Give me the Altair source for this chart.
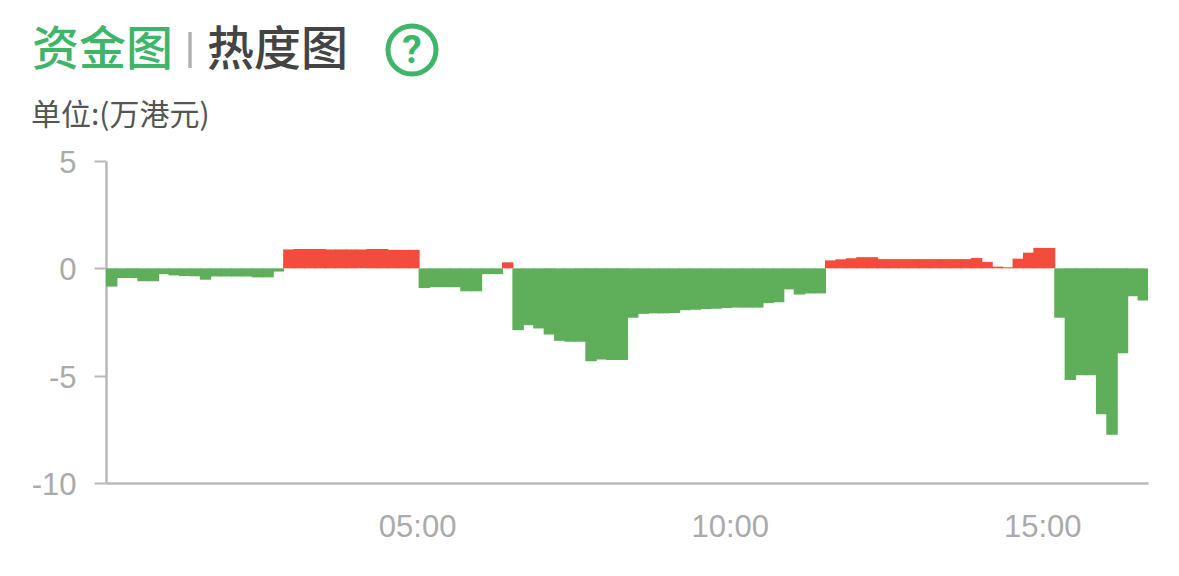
import altair as alt
import pandas as pd

values = [
    -0.85, -0.45, -0.45, -0.6, -0.6, -0.27, -0.33, -0.36, -0.37, -0.53,
    -0.38, -0.38, -0.38, -0.38, -0.42, -0.42, -0.15, 0.88, 0.9, 0.9,
    0.9, 0.88, 0.88, 0.88, 0.88, 0.9, 0.9, 0.86, 0.86, 0.86,
    -0.92, -0.88, -0.88, -0.88, -1.07, -1.07, -0.27, -0.27, 0.28, -2.88,
    -2.65, -2.8, -3.08, -3.38, -3.42, -3.42, -4.33, -4.25, -4.27, -4.27,
    -2.3, -2.12, -2.1, -2.1, -2.08, -1.95, -1.93, -1.9, -1.88, -1.85,
    -1.83, -1.83, -1.83, -1.62, -1.58, -0.98, -1.22, -1.17, -1.17, 0.37,
    0.42, 0.47, 0.52, 0.52, 0.43, 0.43, 0.43, 0.43, 0.43, 0.43,
    0.43, 0.43, 0.43, 0.48, 0.3, 0.08, 0.05, 0.45, 0.73, 0.95,
    0.95, -2.3, -5.2, -4.98, -4.98, -6.8, -7.75, -3.95, -1.3, -1.5,
]
step_seconds = 10
x_ticks = [300, 600, 900]
y_ticks = [-10, -5, 0, 5]
active_title = "资金图"
other_title = "热度图"
unit_label = "单位:(万港元)"
help_label = "?"

# a bar runs slightly into its neighbour so that no hairline shows between bars
overlap = 1.0

df = pd.DataFrame({
    "start": [i * step_seconds for i in range(len(values))],
    "end": [(i + 1) * step_seconds + (overlap if i < len(values) - 1 else 0) for i in range(len(values))],
    "value": values,
    "zero": [0] * len(values),
    "sign": ["流入" if v >= 0 else "流出" for v in values],
})

W, H = 1042, 322
AXIS = "#b8b8b8"
GREEN = "#3fb56a"
CJK = "Noto Sans CJK SC"

x_scale = alt.Scale(domain=[0, 1000], nice=False, zero=False)
y_scale = alt.Scale(domain=[-10, 5], nice=False)
colors = alt.Scale(domain=["流入", "流出"], range=["#f24c3d", "#5fae5a"])

bars = alt.Chart(df).mark_rect(opacity=1).encode(
    x=alt.X("start:Q", scale=x_scale, axis=alt.Axis(
        values=x_ticks, title=None, grid=False, ticks=False,
        domainColor=AXIS, domainWidth=2.5, labelColor="#aaaaaa", labelFontSize=31,
        labelFont="Liberation Sans", labelPadding=29, labelFlush=False, labelOffset=-1.5,
        labelExpr="(datum.value/60 < 10 ? '0' : '') + datum.value/60 + ':00'",
    )),
    x2="end:Q",
    y=alt.Y("value:Q", scale=y_scale, axis=alt.Axis(
        values=y_ticks, title=None, grid=False, tickSize=12, tickWidth=2,
        tickColor=AXIS, domainColor=AXIS, domainWidth=2.5, labelColor="#aaaaaa",
        labelFontSize=31, labelFont="Liberation Sans", labelPadding=18, labelOffset=2.5,
        labelExpr="'' + datum.value",
    )),
    y2="zero:Q",
    color=alt.Color("sign:N", scale=colors, legend=None),
)


def label(text, px, py, size, color, weight="normal", font=CJK, align="left"):
    return alt.Chart(pd.DataFrame({"t": [text]})).mark_text(
        align=align, baseline="middle", font=font, fontSize=size,
        fontWeight=weight, color=color,
    ).encode(text="t:N", x=alt.value(px - 106), y=alt.value(py - 161))


title_a = label(active_title, 32, 51, 47, GREEN, 500)
title_b = label(other_title, 207, 51, 47, "#444444", 500)
unit = label(unit_label, 31, 116, 30, "#555555", 400)
separator = alt.Chart(pd.DataFrame({"a": [0]})).mark_rule(color="#b0b0b0", strokeWidth=3.5).encode(
    x=alt.value(190 - 106), y=alt.value(32 - 161), y2=alt.value(68 - 161)
)
ring = alt.Chart(pd.DataFrame({"a": [0]})).mark_point(
    shape="circle", size=2304, filled=False, color=GREEN, strokeWidth=5, opacity=1
).encode(x=alt.value(412 - 106), y=alt.value(50 - 161))
question = label(help_label, 412, 51, 39, GREEN, 700, "Roboto", "center")

chart = alt.layer(
    bars, title_a, title_b, separator, unit, ring, question
).properties(
    width=W, height=H,
    autosize=alt.AutoSizeParams(type="none"),
    padding={"left": 98, "top": 153, "right": 15, "bottom": 70},
    background="white",
).configure_view(stroke=None)

chart.save("out.html", embed_options={"renderer": "svg", "actions": False})
